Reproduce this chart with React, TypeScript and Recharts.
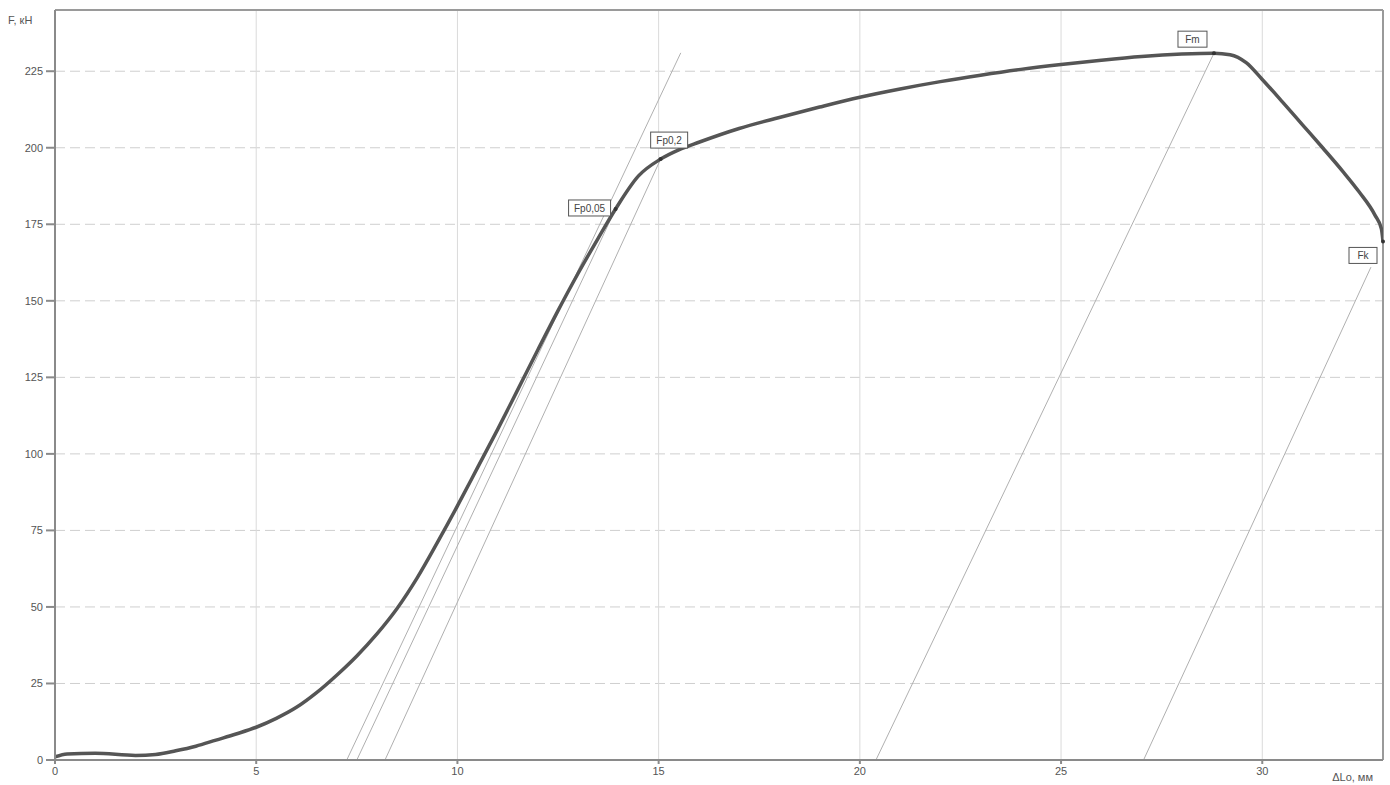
import React from 'react';
import {
  ComposedChart,
  Line,
  XAxis,
  YAxis,
  CartesianGrid,
  ReferenceLine,
  ReferenceDot,
} from 'recharts';

// Main load–extension curve
const curveX = [0, 0.3, 1, 2, 2.5, 3, 3.5, 4, 4.5, 5, 5.5, 6, 6.5, 7, 7.5, 8, 8.5, 9, 9.5, 10, 10.5, 11, 11.5, 12, 12.5, 13, 13.5, 13.93, 14.5, 15.05, 15.5, 16, 17, 18, 19, 20, 21, 22, 23, 24, 25, 26, 27, 28, 28.8, 29.2, 29.6, 30, 30.5, 31, 31.5, 32, 32.4, 32.8, 32.96, 33];
const curveF = [1, 2, 2.2, 1.5, 1.8, 3, 4.5, 6.5, 8.5, 10.7, 13.6, 17.2, 22, 27.7, 34, 41.2, 49.5, 59.5, 71, 83, 95.5, 108, 121, 134, 146.8, 159, 170.5, 180, 190.8, 196.3, 199.3, 201.8, 206.3, 209.9, 213.3, 216.5, 219.2, 221.6, 223.7, 225.6, 227.2, 228.6, 229.8, 230.6, 230.9, 230.4, 227.8, 222.3, 215, 207.5, 200, 192.3, 185.7, 178, 173.5, 169.4];

// Thin construction lines (start/end pairs)
const guide1X = [7.25, 15.55];
const guide1F = [0, 231];
const guide2X = [7.5, 13.93];
const guide2F = [0, 180];
const guide3X = [8.2, 15.05];
const guide3F = [0, 196.3];
const guide4X = [20.4, 28.8];
const guide4F = [0, 230.9];
const guide5X = [27.05, 32.7];
const guide5F = [0, 161];

// Characteristic points
const markerNames = ['Fp0,05', 'Fp0,2', 'Fm', 'Fk'];
const markerX = [13.93, 15.05, 28.8, 33];
const markerF = [180, 196.3, 230.9, 169.4];

// Axis ticks
const xTicks = [0, 5, 10, 15, 20, 25, 30];
const yTicks = [0, 25, 50, 75, 100, 125, 150, 175, 200, 225];
const xMax = 33;
const yMax = 245;

const curveData = curveX.map((x, i) => ({ x, f: curveF[i] }));
const toPairs = (xs: number[], fs: number[]) => xs.map((x, i) => ({ x, f: fs[i] }));
const guides = [
  toPairs(guide1X, guide1F),
  toPairs(guide2X, guide2F),
  toPairs(guide3X, guide3F),
  toPairs(guide4X, guide4F),
  toPairs(guide5X, guide5F),
];

// label box placement relative to the marker (style only)
const boxStyle = [
  { dx: -47, dy: -9, w: 42 },
  { dx: -10, dy: -27, w: 37 },
  { dx: -36, dy: -22, w: 29 },
  { dx: -34, dy: 6, w: 28 },
];

const FONT = '"Liberation Sans", Arial, sans-serif';

const makeMarkerShape = (i: number) => (props: any) => {
  const { cx, cy } = props;
  if (cx == null || cy == null) return <g />;
  const s = boxStyle[i];
  const h = 16;
  return (
    <g>
      <circle cx={cx} cy={cy} r={2} fill="#333" />
      <rect x={cx + s.dx} y={cy + s.dy} width={s.w} height={h} fill="#fff" stroke="#555" strokeWidth={1} />
      <text
        x={cx + s.dx + s.w / 2}
        y={cy + s.dy + h / 2 + 4}
        textAnchor="middle"
        fontFamily={FONT}
        fontSize={10}
        fill="#444"
      >
        {markerNames[i]}
      </text>
    </g>
  );
};

export default function App() {
  return (
    <div style={{ position: 'absolute', left: 0, top: 0, width: 1390, height: 785, background: '#fff' }}>
      <ComposedChart
        width={1390}
        height={785}
        margin={{ top: 10, right: 7, bottom: 0, left: 0 }}
      >
        <CartesianGrid horizontal={true} vertical={false} stroke="#cfcfcf" strokeDasharray="10 5" />
        <CartesianGrid horizontal={false} vertical={true} stroke="#dadada" />
        <XAxis
          dataKey="x"
          type="number"
          domain={[0, xMax]}
          ticks={xTicks}
          allowDataOverflow
          height={25}
          tickSize={4}
          tickMargin={3}
          stroke="#8a8a8a"
          strokeWidth={2}
          tick={{ fontSize: 11, fill: '#555', fontFamily: FONT }}
          label={{
            content: (p: any) => {
              const vb = p.viewBox || { x: 55, y: 760, width: 1328, height: 25 };
              return (
                <text x={vb.x + vb.width - 10} y={vb.y + 21} textAnchor="end" fontSize={11} fill="#555" fontFamily={FONT}>
                  ΔLo, мм
                </text>
              );
            },
          }}
        />
        <YAxis
          type="number"
          domain={[0, yMax]}
          ticks={yTicks}
          allowDataOverflow
          width={55}
          tickSize={9}
          tickMargin={3}
          stroke="#8a8a8a"
          strokeWidth={2}
          tick={{ fontSize: 11, fill: '#555', fontFamily: FONT }}
          label={{
            content: (p: any) => {
              const vb = p.viewBox || { x: 0, y: 10, width: 55, height: 750 };
              return (
                <text x={vb.x + 8} y={vb.y + 14} textAnchor="start" fontSize={11} fill="#555" fontFamily={FONT}>
                  F, кН
                </text>
              );
            },
          }}
        />
        <ReferenceLine y={yMax} stroke="#9a9a9a" strokeWidth={2} ifOverflow="visible" />
        <ReferenceLine x={xMax} stroke="#9a9a9a" strokeWidth={2} ifOverflow="visible" />
        {guides.map((g, i) => (
          <Line
            key={'g' + i}
            data={g}
            dataKey="f"
            type="linear"
            stroke="#b0b0b0"
            strokeWidth={1}
            dot={false}
            activeDot={false}
            isAnimationActive={false}
          />
        ))}
        <Line
          data={curveData}
          dataKey="f"
          type="monotone"
          stroke="#555"
          strokeWidth={3.5}
          dot={false}
          activeDot={false}
          isAnimationActive={false}
        />
        {markerNames.map((n, i) => (
          <ReferenceDot
            key={n}
            x={markerX[i]}
            y={markerF[i]}
            r={2}
            ifOverflow="visible"
            shape={makeMarkerShape(i)}
          />
        ))}
      </ComposedChart>
    </div>
  );
}
